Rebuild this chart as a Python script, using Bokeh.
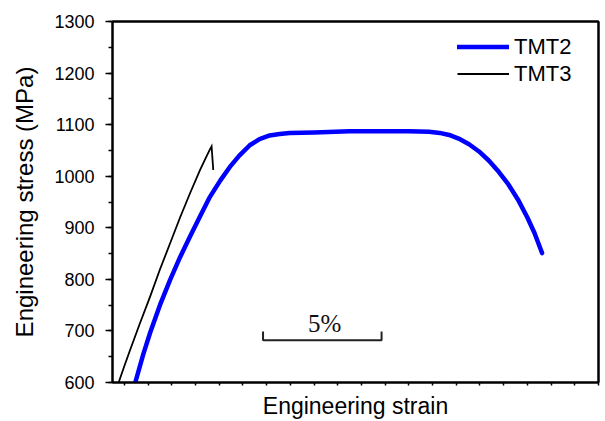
from bokeh.plotting import figure
from bokeh.models import Legend, LegendItem, SingleIntervalTicker, FixedTicker, Range1d, LinearAxis
from bokeh.embed import file_html
from bokeh.resources import INLINE
from bokeh.core.properties import value

# ---- data (strain in %, stress in MPa) ----
tmt2_strain = [0.46, 0.80, 1.09, 1.50, 1.93, 2.35, 2.77, 3.20, 3.61, 4.05, 4.45, 4.85,
               5.29, 5.70, 6.13, 6.55, 6.97, 8.00, 9.50, 10.75, 12.00, 12.85, 13.30,
               13.70, 14.10, 14.54, 14.96, 15.38, 15.80, 16.20, 16.60, 17.00, 17.30, 17.62]
tmt2_stress = [600, 655, 697, 750, 799, 843, 883, 923, 960, 992, 1018, 1040,
               1060, 1072, 1079, 1082, 1084, 1085, 1087, 1087, 1087, 1086, 1084,
               1080, 1073, 1062, 1048, 1030, 1008, 984, 955, 920, 890, 851]

tmt3_strain = [-0.24, 0.00, 0.25, 0.65, 1.09, 1.50, 1.93, 2.35, 2.77, 3.19, 3.45, 3.61, 3.68, 3.75]
tmt3_stress = [600, 632, 664, 714, 767, 819, 870, 920, 967, 1012, 1037, 1052, 1058, 1012]

series_names = ["TMT2", "TMT3"]
scale_bar_label = "5%"
scale_bar_length = 5.0
y_tick_interval = 100
x_tick_positions = list(range(0, 21))

FONT = "Liberation Sans"

p = figure(width=605, height=421, output_backend="svg", toolbar_location=None,
           x_range=Range1d(-0.5, 20), y_range=Range1d(600, 1300),
           min_border_left=112, min_border_right=7, min_border_top=21,
           min_border_bottom=38)
p.background_fill_color = "white"
p.border_fill_color = "white"
p.outline_line_color = "black"
p.outline_line_width = 2
p.grid.visible = False

# y axis
p.yaxis.ticker = SingleIntervalTicker(interval=y_tick_interval, num_minor_ticks=2)
p.yaxis.axis_label = "Engineering stress (MPa)"
p.yaxis.major_tick_out = 7
p.yaxis.major_tick_in = 0
p.yaxis.minor_tick_out = 4
p.yaxis.minor_tick_in = 0
p.yaxis.major_label_standoff = 11
p.yaxis.axis_label_standoff = 13
p.yaxis.major_label_text_font_size = "18px"
p.yaxis.axis_label_text_font_size = "24px"

# x axis (unlabelled ticks)
p.xaxis.ticker = FixedTicker(ticks=[], minor_ticks=x_tick_positions)
p.xaxis.axis_label = "Engineering strain"
p.xaxis.major_tick_out = 0
p.xaxis.major_tick_in = 0
p.xaxis.minor_tick_out = 3
p.xaxis.minor_tick_in = 0
p.xaxis.major_label_standoff = 0
p.xaxis.axis_label_standoff = 7
p.xaxis.axis_label_text_font_size = "23px"

for ax in (p.xaxis, p.yaxis):
    ax.axis_line_width = 2
    ax.axis_line_color = "black"
    ax.major_tick_line_color = "black"
    ax.minor_tick_line_color = "black"
    ax.major_tick_line_width = 1.5
    ax.minor_tick_line_width = 1.5
    ax.axis_label_text_font = FONT
    ax.axis_label_text_font_style = "normal"
    ax.axis_label_text_color = "black"
    ax.major_label_text_font = FONT
    ax.major_label_text_color = "black"

# frame top/right lines
for side in ("above", "right"):
    a = LinearAxis(ticker=FixedTicker(ticks=[]), axis_line_width=2,
                   axis_line_color="black", major_tick_out=0, major_tick_in=0,
                   minor_tick_out=0, minor_tick_in=0, major_label_standoff=0)
    p.add_layout(a, side)

# curves
r2 = p.line(tmt2_strain, tmt2_stress, line_color="#0000ff", line_width=4.5,
            line_join="round", line_cap="round")
r3 = p.line(tmt3_strain, tmt3_stress, line_color="black", line_width=1.8,
            line_join="miter")

# scale bar
bar_x0 = 5.85
bar_x = [bar_x0, bar_x0, bar_x0 + scale_bar_length, bar_x0 + scale_bar_length]
bar_y = [699, 682, 682, 699]
p.line(bar_x, bar_y, line_color="#222222", line_width=2)
p.text(x=[bar_x0 + scale_bar_length / 2 + 0.1], y=[715], text=[scale_bar_label],
       text_font=value("Liberation Serif"), text_font_size="25px",
       text_align="center", text_baseline="middle", text_color="#111111")

legend = Legend(items=[LegendItem(label=series_names[0], renderers=[r2]),
                       LegendItem(label=series_names[1], renderers=[r3])],
                location=(345, 295))
legend.border_line_color = None
legend.background_fill_alpha = 0
legend.padding = 0
legend.spacing = 0
legend.margin = 0
legend.glyph_width = 52
legend.glyph_height = 27
legend.label_height = 27
legend.label_standoff = 5
legend.label_text_font = FONT
legend.label_text_font_size = "22px"
legend.label_text_color = "black"
p.add_layout(legend)

open("out.html", "w").write(file_html(p, INLINE))
